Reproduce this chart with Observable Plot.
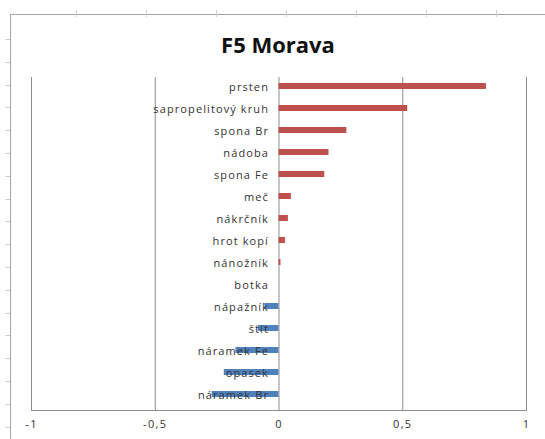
<!DOCTYPE html>
<html><head><meta charset="utf-8">
<script src="https://cdn.jsdelivr.net/npm/d3@7"></script>
<script src="https://cdn.jsdelivr.net/npm/@observablehq/plot@0.6"></script>
<style>
body{margin:0;background:#fff;width:545px;height:439px;overflow:hidden;position:relative;font-family:"Open Sans",sans-serif}
#frame{position:absolute;left:10px;top:14px;width:560px;height:460px;border-left:1px solid #a6a6a6;border-top:1px solid #a6a6a6}
#topticks{position:absolute;left:76px;top:10px;width:480px;height:7px;background:repeating-linear-gradient(to right,#d0d0d0 0 1px,transparent 1px 70px)}
#leftticks{position:absolute;left:5px;top:39px;width:5px;height:400px;background:repeating-linear-gradient(to bottom,#d0d0d0 0 1px,transparent 1px 22.8px)}
#title{position:absolute;top:0;left:0;width:556px;text-align:center;padding-top:30px;line-height:28px;font-weight:700;font-size:22px;color:#111}
#chart{position:absolute;top:62px;left:0}
#chart svg text{letter-spacing:1.1px}
#chart svg g[aria-label="x-axis tick label"] text{letter-spacing:1.4px}
</style>
</head><body>
<div id="frame"></div><div id="topticks"></div><div id="leftticks"></div>
<div id="title">F5 Morava</div>
<div id="chart"></div>
<script>
const categories = ["prsten","sapropelitový kruh","spona Br","nádoba","spona Fe","meč","nákrčník","hrot kopí","nánožník","botka","nápažník","štít","náramek Fe","opasek","náramek Br"];
const values = [0.838,0.52,0.274,0.202,0.185,0.05,0.038,0.026,0.008,0,-0.057,-0.084,-0.174,-0.221,-0.27];
const ticks = [-1,-0.5,0,0.5,1];
const tickLabels = ["-1","-0,5","0","0,5","1"];
const gridValues = [-1,-0.5,0.5,1];
const signs = ["pos","neg"];
const colors = ["#C0504D","#4F81BD"];
const data = categories.map((c,i)=>({category:c,value:values[i],sign:values[i]>=0?"pos":"neg"}));
const fmt = d => tickLabels[ticks.indexOf(d)];
const chart = Plot.plot({
  width:545, height:377, marginLeft:31, marginRight:19, marginTop:15, marginBottom:29,
  style:{background:"transparent", fontFamily:"Open Sans", fontSize:"11px", color:"#333"},
  x:{domain:[-1,1], label:null},
  y:{domain:categories, paddingInner:0.72, paddingOuter:0.36, insetTop:-4, insetBottom:2, axis:null},
  color:{domain:signs, range:colors},
  marks:[
    Plot.ruleX(gridValues,{stroke:"#8c8c8c",strokeOpacity:1}),
    Plot.ruleX([0],{stroke:"#8c8c8c",strokeOpacity:1}),
    Plot.frame({anchor:"bottom",stroke:"#8c8c8c"}),
    Plot.barX(data,{x:"value",y:"category",fill:"sign"}),
    Plot.text(data,{x:0,y:"category",text:"category",textAnchor:"end",dx:-10,dy:1,fill:"#333",fontSize:11}),
    Plot.axisX({ticks, tickFormat:fmt, tickSize:0, tickPadding:10, fill:"#333", fontSize:11, label:null})
  ]
});
document.getElementById("chart").appendChild(chart);
</script>
</body></html>
